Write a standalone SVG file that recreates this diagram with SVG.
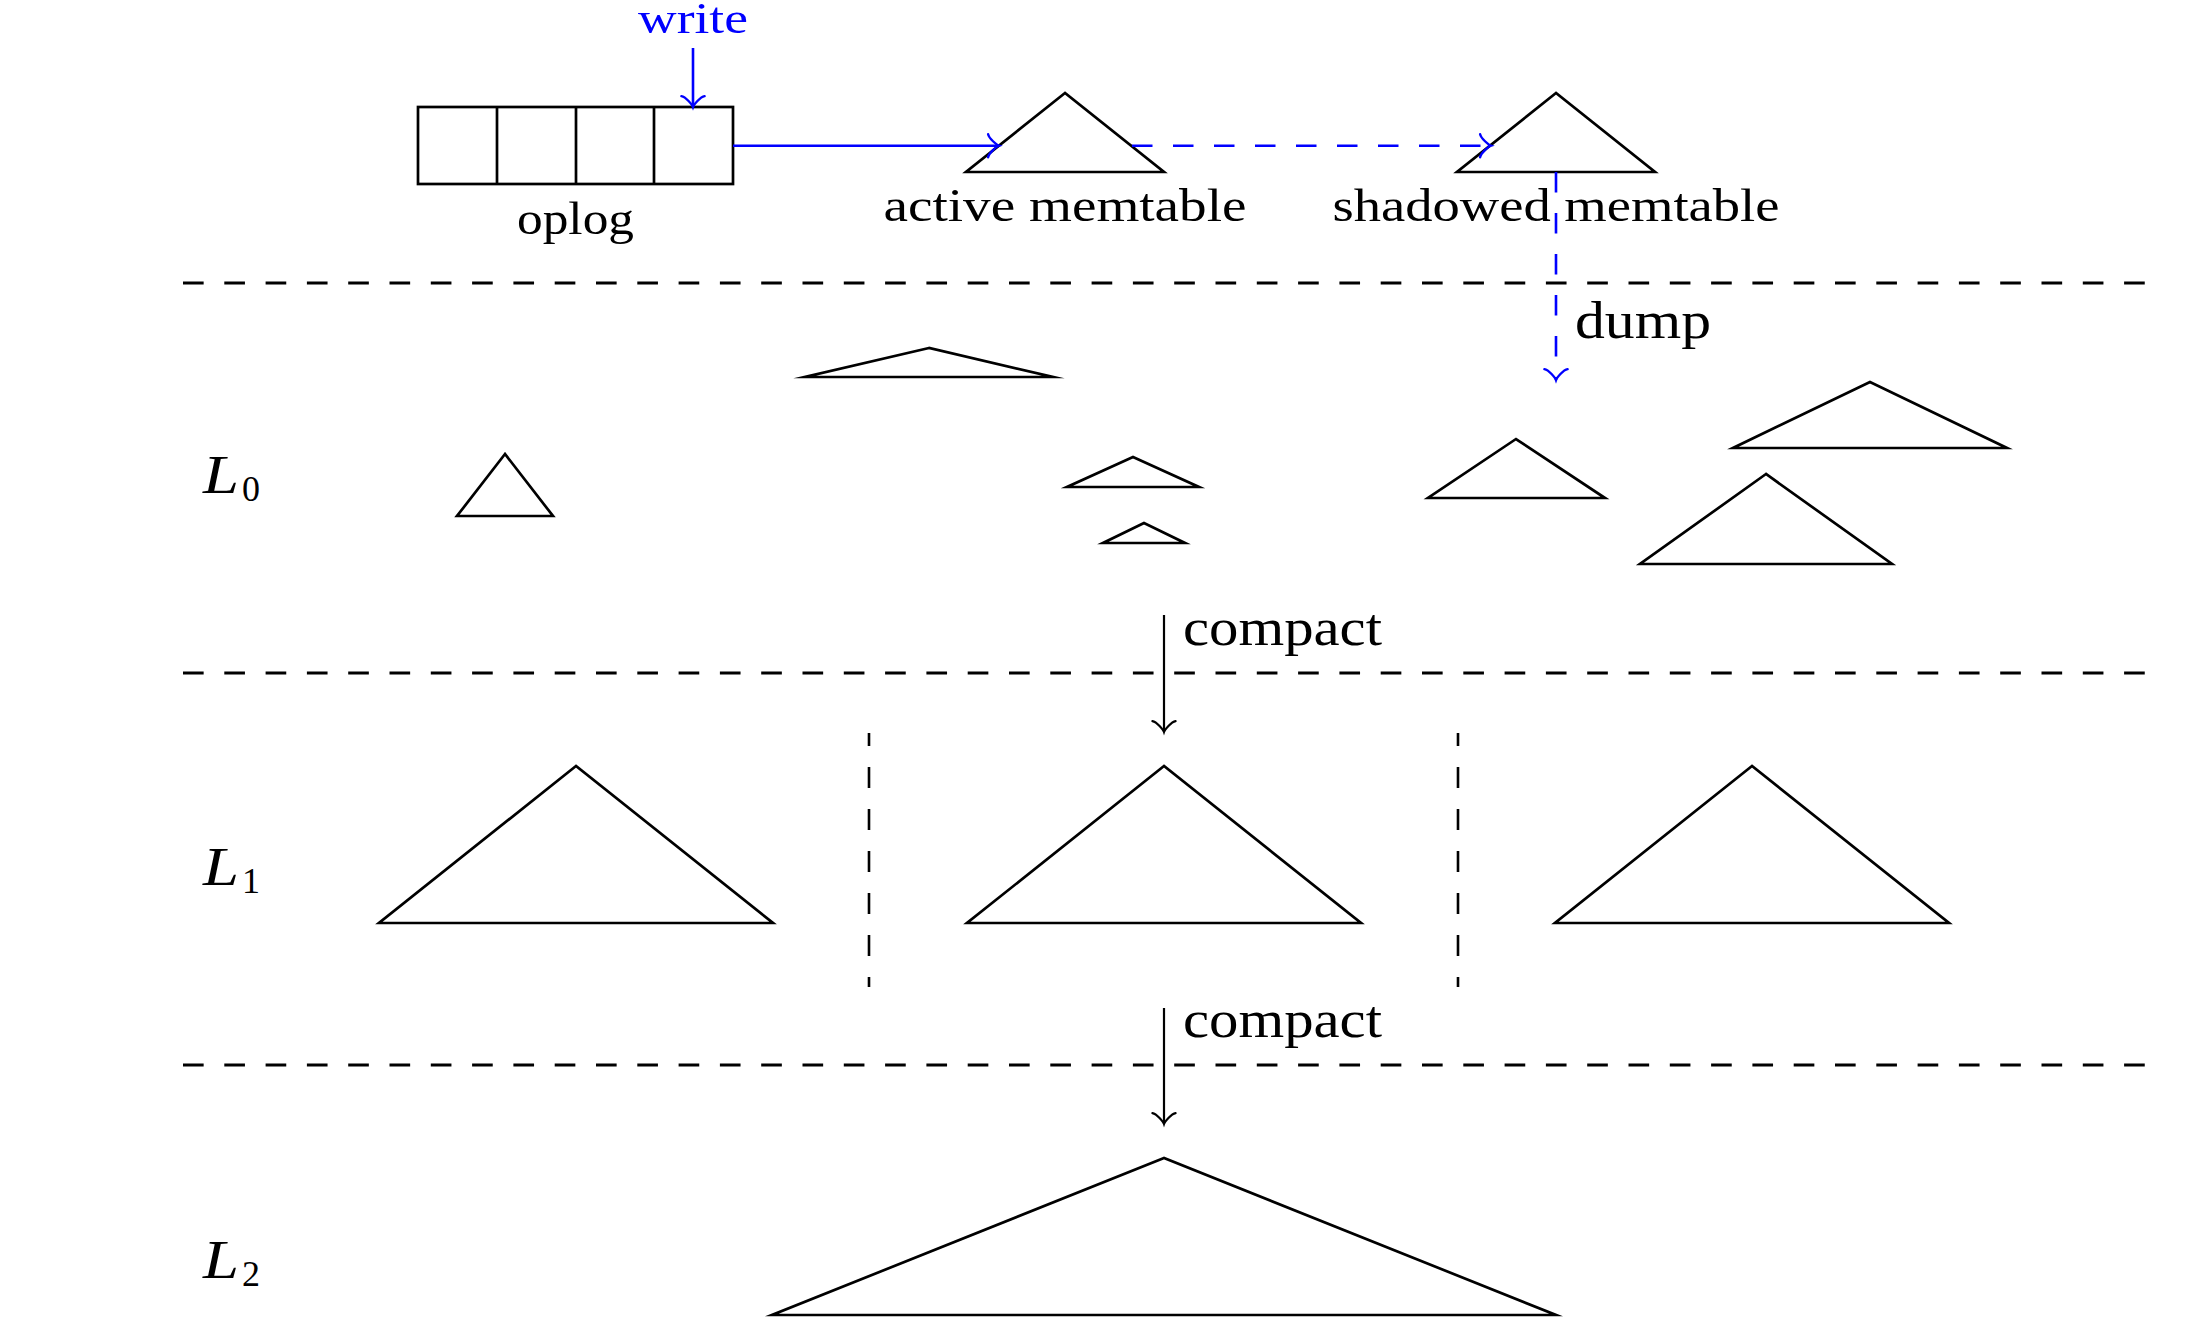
<svg xmlns="http://www.w3.org/2000/svg" width="2196" height="1326" viewBox="0 0 2196 1326">
<style>
  .tri { fill: none; stroke: #000; stroke-width: 2.7; stroke-miterlimit: 10; }
  .sep { fill: none; stroke: #000; stroke-width: 2.8; stroke-dasharray: 20.65 20.65; }
  .vsep { fill: none; stroke: #000; stroke-width: 2.6; stroke-dasharray: 21 21; stroke-dashoffset: 8; }
  .blue { fill: none; stroke: #0000ff; stroke-width: 2.6; }
  .bdash { stroke-dasharray: 20.5 20.5; }
  .blk { fill: none; stroke: #000; stroke-width: 2.2; }
  .lbl { font-family: "Liberation Serif", "Times New Roman", serif; font-size: 47px; fill: #000; }
  .big { font-family: "Liberation Serif", "Times New Roman", serif; font-size: 52px; fill: #000; }
  .lvl { font-family: "Liberation Serif", "Times New Roman", serif; font-size: 54px; font-style: italic; fill: #000; }
  .sub { font-family: "Liberation Serif", "Times New Roman", serif; font-size: 36px; fill: #000; }
</style>
<defs>
  <marker id="ab" markerUnits="userSpaceOnUse" markerWidth="30" markerHeight="30" refX="0" refY="0" orient="auto" overflow="visible">
    <path d="M -10.9,-11.6 C -10.15,-7.25 -2.2,-0.73 0,0 C -2.2,0.73 -10.15,7.25 -10.9,11.6" fill="none" stroke="#0000ff" stroke-width="2.4" stroke-linecap="round"/>
  </marker>
  <marker id="ak" markerUnits="userSpaceOnUse" markerWidth="30" markerHeight="30" refX="0" refY="0" orient="auto" overflow="visible">
    <path d="M -10.9,-11.6 C -10.15,-7.25 -2.2,-0.73 0,0 C -2.2,0.73 -10.15,7.25 -10.9,11.6" fill="none" stroke="#000" stroke-width="2.2" stroke-linecap="round"/>
  </marker>
</defs>
<rect width="2196" height="1326" fill="#fff"/>

<g id="separators">
  <line class="sep" x1="183" y1="283" x2="2145" y2="283"/>
  <line class="sep" x1="183" y1="673" x2="2145" y2="673"/>
  <line class="sep" x1="183" y1="1065" x2="2145" y2="1065"/>
  <line class="vsep" x1="869" y1="733" x2="869" y2="987"/>
  <line class="vsep" x1="1458" y1="733" x2="1458" y2="987"/>
</g>

<g id="oplog">
  <rect x="418" y="107" width="315" height="77" class="tri"/>
  <line x1="497" y1="107" x2="497" y2="184" class="tri"/>
  <line x1="576" y1="107" x2="576" y2="184" class="tri"/>
  <line x1="654" y1="107" x2="654" y2="184" class="tri"/>
  <text x="575.5" y="234" class="lbl" text-anchor="middle" textLength="117" lengthAdjust="spacingAndGlyphs">oplog</text>
</g>

<g id="write-label">
  <text x="693" y="33" class="lbl" style="fill:#0000ff;font-size:45px" text-anchor="middle" textLength="110" lengthAdjust="spacingAndGlyphs">write</text>
</g>

<g id="active-memtable">
  <polygon class="tri" points="1065,93 966,172 1164,172"/>
  <text x="1065" y="221" class="lbl" text-anchor="middle" textLength="363" lengthAdjust="spacingAndGlyphs">active memtable</text>
</g>

<g id="shadowed-memtable">
  <polygon class="tri" points="1556,93 1457,172 1655,172"/>
  <text x="1556" y="221" class="lbl" text-anchor="middle" textLength="447" lengthAdjust="spacingAndGlyphs">shadowed memtable</text>
</g>

<g id="level0">
  <text x="203" y="493" class="lvl" textLength="36" lengthAdjust="spacingAndGlyphs">L</text>
  <text x="242" y="501" class="sub">0</text>
  <polygon class="tri" points="505,454 457,516 553,516"/>
  <polygon class="tri" points="929,348 805,377 1053,377"/>
  <polygon class="tri" points="1133,457 1067,487 1199,487"/>
  <polygon class="tri" points="1144,523 1103,543 1185,543"/>
  <polygon class="tri" points="1516,439 1428,498 1605,498"/>
  <polygon class="tri" points="1870,382 1733,448 2007,448"/>
  <polygon class="tri" points="1766,474 1640,564 1892,564"/>
</g>

<g id="level1">
  <text x="203" y="885" class="lvl" textLength="36" lengthAdjust="spacingAndGlyphs">L</text>
  <text x="242" y="893" class="sub">1</text>
  <polygon class="tri" points="576,766 379,923 773,923"/>
  <polygon class="tri" points="1164,766 967,923 1361,923"/>
  <polygon class="tri" points="1752,766 1555,923 1949,923"/>
</g>

<g id="level2">
  <text x="203" y="1278" class="lvl" textLength="36" lengthAdjust="spacingAndGlyphs">L</text>
  <text x="242" y="1286" class="sub">2</text>
  <polygon class="tri" points="1164,1158 772,1315 1556,1315"/>
</g>

<g id="connectors">
  <line class="blue" x1="693" y1="48" x2="693" y2="107" marker-end="url(#ab)"/>
  <line class="blue" x1="733" y1="145.7" x2="999" y2="145.7" marker-end="url(#ab)"/>
  <line class="blue bdash" x1="1132" y1="145.7" x2="1491" y2="145.7" marker-end="url(#ab)"/>
  <line class="blue bdash" x1="1556" y1="172" x2="1556" y2="380" marker-end="url(#ab)"/>
  <text x="1575" y="338" class="big" textLength="136" lengthAdjust="spacingAndGlyphs">dump</text>
  <line class="blk" x1="1164" y1="615" x2="1164" y2="732" marker-end="url(#ak)"/>
  <text x="1183" y="645" class="big" textLength="199" lengthAdjust="spacingAndGlyphs">compact</text>
  <line class="blk" x1="1164" y1="1008" x2="1164" y2="1124" marker-end="url(#ak)"/>
  <text x="1183" y="1037" class="big" textLength="199" lengthAdjust="spacingAndGlyphs">compact</text>
</g>
</svg>
